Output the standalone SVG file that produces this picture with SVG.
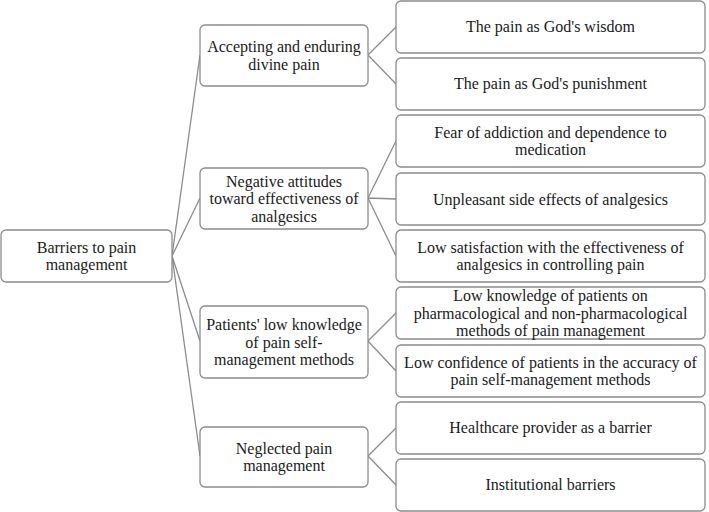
<svg xmlns="http://www.w3.org/2000/svg" width="709" height="512" viewBox="0 0 709 512">
<style>
.box{fill:#fff;stroke:#8c8c8c;stroke-width:1.3}
.t{font-family:"Liberation Serif","Times New Roman",serif;font-size:16px;fill:#1a1a1a;text-anchor:middle}
.c{stroke:#8c8c8c;stroke-width:1.3;fill:none}
</style>
<rect width="709" height="512" fill="#fff"/>
<g id="connectors">
<path class="c" d="M172,256 L200,55 M172,256 L200,198 M172,256 L200,341 M172,256 L200,456"/>
<path class="c" d="M368,55 L396,27 M368,55 L396,84"/>
<path class="c" d="M368,198 L396,141 M368,198 L396,199 M368,198 L396,256"/>
<path class="c" d="M368,341 L396,313 M368,341 L396,371"/>
<path class="c" d="M368,456 L396,428 M368,456 L396,485"/>
</g>
<g id="root"><rect class="box" x="1" y="230" width="171" height="52" rx="5"/><text class="t" x="86.5" y="252.5">Barriers to pain</text><text class="t" x="86.5" y="270">management</text></g>
<g id="n-accepting"><rect class="box" x="200" y="25" width="168" height="61" rx="5"/><text class="t" x="284" y="52">Accepting and enduring</text><text class="t" x="284" y="69.5">divine pain</text></g>
<g id="n-negative"><rect class="box" x="200" y="168" width="168" height="61" rx="5"/><text class="t" x="284" y="186.5">Negative attitudes</text><text class="t" x="284" y="204">toward effectiveness of</text><text class="t" x="284" y="221.5">analgesics</text></g>
<g id="n-knowledge"><rect class="box" x="200" y="306" width="168" height="72" rx="5"/><text class="t" x="284" y="330">Patients' low knowledge</text><text class="t" x="284" y="347.5">of pain self-</text><text class="t" x="284" y="365">management methods</text></g>
<g id="n-neglected"><rect class="box" x="200" y="427" width="168" height="60" rx="5"/><text class="t" x="284" y="453.5">Neglected pain</text><text class="t" x="284" y="471">management</text></g>
<g id="l-wisdom"><rect class="box" x="396" y="1" width="309" height="52" rx="5"/><text class="t" x="550.5" y="32">The pain as God's wisdom</text></g>
<g id="l-punishment"><rect class="box" x="396" y="58" width="309" height="52" rx="5"/><text class="t" x="550.5" y="89">The pain as God's punishment</text></g>
<g id="l-fear"><rect class="box" x="396" y="115" width="309" height="52" rx="5"/><text class="t" x="550.5" y="137.5">Fear of addiction and dependence to</text><text class="t" x="550.5" y="155">medication</text></g>
<g id="l-side"><rect class="box" x="396" y="173" width="309" height="52" rx="5"/><text class="t" x="550.5" y="204.5">Unpleasant side effects of analgesics</text></g>
<g id="l-satisfaction"><rect class="box" x="396" y="230" width="309" height="52" rx="5"/><text class="t" x="550.5" y="252.5">Low satisfaction with the effectiveness of</text><text class="t" x="550.5" y="270">analgesics in controlling pain</text></g>
<g id="l-lowknow"><rect class="box" x="396" y="287" width="309" height="52" rx="5"/><text class="t" x="550.5" y="301">Low knowledge of patients on</text><text class="t" x="550.5" y="318.5">pharmacological and non-pharmacological</text><text class="t" x="550.5" y="336">methods of pain management</text></g>
<g id="l-confidence"><rect class="box" x="396" y="345" width="309" height="52" rx="5"/><text class="t" x="550.5" y="367.5">Low confidence of patients in the accuracy of</text><text class="t" x="550.5" y="385">pain self-management methods</text></g>
<g id="l-provider"><rect class="box" x="396" y="402" width="309" height="52" rx="5"/><text class="t" x="550.5" y="433">Healthcare provider as a barrier</text></g>
<g id="l-institutional"><rect class="box" x="396" y="459" width="309" height="52" rx="5"/><text class="t" x="550.5" y="490">Institutional barriers</text></g>
</svg>
